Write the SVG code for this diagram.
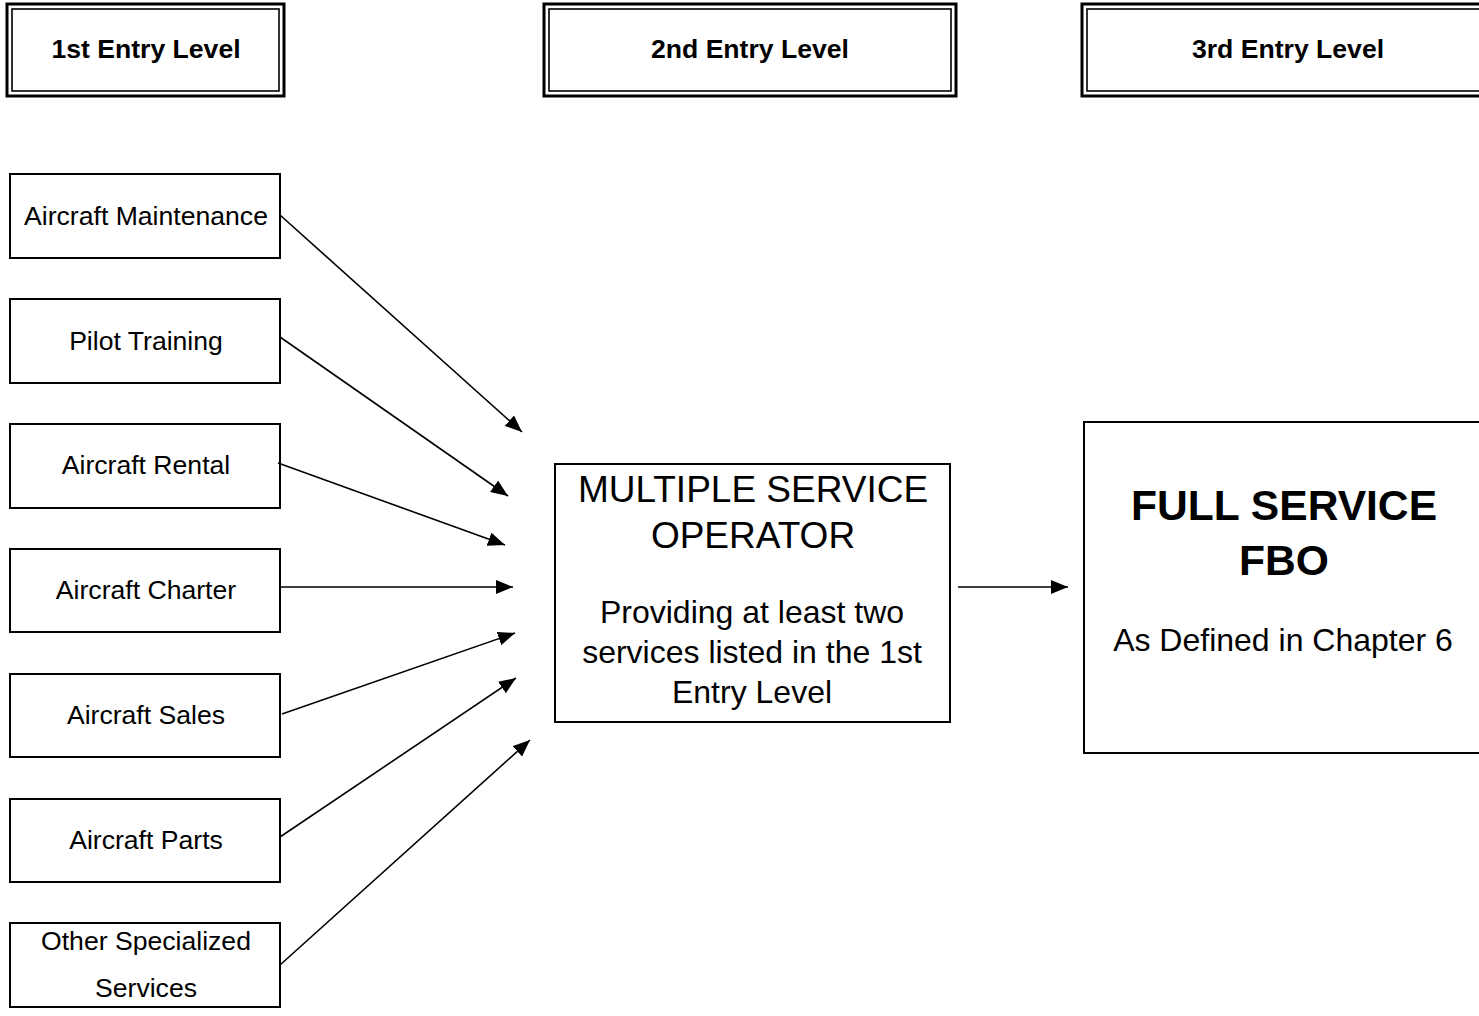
<svg xmlns="http://www.w3.org/2000/svg" width="1479" height="1016" viewBox="0 0 1479 1016">
<style>
.bg{fill:#fff}
.box{fill:#fff;stroke:#000;stroke-width:2}
.outer{fill:#fff;stroke:#000;stroke-width:3}
.inner{fill:none;stroke:#000;stroke-width:1.6}
.t{font-family:"Liberation Sans",Arial,sans-serif;fill:#000;text-anchor:middle}
.hd{font-size:26.6px;font-weight:bold}
.sv{font-size:26.6px}
.conn line{stroke:#000;stroke-width:1.6;marker-end:url(#ah)}
</style>
<defs>
<marker id="ah" markerUnits="userSpaceOnUse" markerWidth="18" markerHeight="14" refX="17" refY="7" orient="auto">
<path d="M0,0 L17,7 L0,14 Z" fill="#000"/>
</marker>
</defs>
<rect class="bg" x="0" y="0" width="1479" height="1016"/>
<g id="header1">
<rect class="outer" x="7" y="4" width="277" height="92"/>
<rect class="inner" x="12" y="9" width="267" height="82"/>
<text class="t hd" x="146" y="58">1st Entry Level</text>
</g>
<g id="header2">
<rect class="outer" x="544" y="4" width="412" height="92"/>
<rect class="inner" x="549" y="9" width="402" height="82"/>
<text class="t hd" x="750" y="58">2nd Entry Level</text>
</g>
<g id="header3">
<rect class="outer" x="1082" y="4" width="410" height="92"/>
<rect class="inner" x="1087" y="9" width="400" height="82"/>
<text class="t hd" x="1288" y="58">3rd Entry Level</text>
</g>
<g id="maintenance">
<rect class="box" x="10" y="174" width="270" height="84"/>
<text class="t sv" x="146" y="225">Aircraft Maintenance</text>
</g>
<g id="training">
<rect class="box" x="10" y="299" width="270" height="84"/>
<text class="t sv" x="146" y="350">Pilot Training</text>
</g>
<g id="rental">
<rect class="box" x="10" y="424" width="270" height="84"/>
<text class="t sv" x="146" y="474">Aircraft Rental</text>
</g>
<g id="charter">
<rect class="box" x="10" y="549" width="270" height="83"/>
<text class="t sv" x="146" y="599">Aircraft Charter</text>
</g>
<g id="sales">
<rect class="box" x="10" y="674" width="270" height="83"/>
<text class="t sv" x="146" y="724">Aircraft Sales</text>
</g>
<g id="parts">
<rect class="box" x="10" y="799" width="270" height="83"/>
<text class="t sv" x="146" y="849">Aircraft Parts</text>
</g>
<g id="other">
<rect class="box" x="10" y="923" width="270" height="84"/>
<text class="t sv" x="146" y="950">Other Specialized</text>
<text class="t sv" x="146" y="997">Services</text>
</g>
<g id="mso">
<rect class="box" x="555" y="464" width="395" height="258"/>
<text class="t" style="font-size:37px" x="753" y="502">MULTIPLE SERVICE</text>
<text class="t" style="font-size:37px" x="753" y="548">OPERATOR</text>
<text class="t" style="font-size:32px" x="752" y="623">Providing at least two</text>
<text class="t" style="font-size:32px" x="752" y="663">services listed in the 1st</text>
<text class="t" style="font-size:32px" x="752" y="703">Entry Level</text>
</g>
<g id="fbo">
<rect class="box" x="1084" y="422" width="410" height="331"/>
<text class="t" style="font-size:42.6px;font-weight:bold" x="1284" y="520">FULL SERVICE</text>
<text class="t" style="font-size:42.6px;font-weight:bold" x="1284" y="575">FBO</text>
<text class="t" style="font-size:32px" x="1283" y="651">As Defined in Chapter 6</text>
</g>
<g id="connectors" class="conn">
<line x1="280" y1="215" x2="522" y2="432"/>
<line x1="280" y1="337" x2="508" y2="496"/>
<line x1="278" y1="463" x2="505" y2="545"/>
<line x1="280" y1="587" x2="513" y2="587"/>
<line x1="282" y1="714" x2="515" y2="633"/>
<line x1="280" y1="837" x2="516" y2="678"/>
<line x1="280" y1="965" x2="530" y2="740"/>
<line x1="958" y1="587" x2="1068" y2="587"/>
</g>
</svg>
